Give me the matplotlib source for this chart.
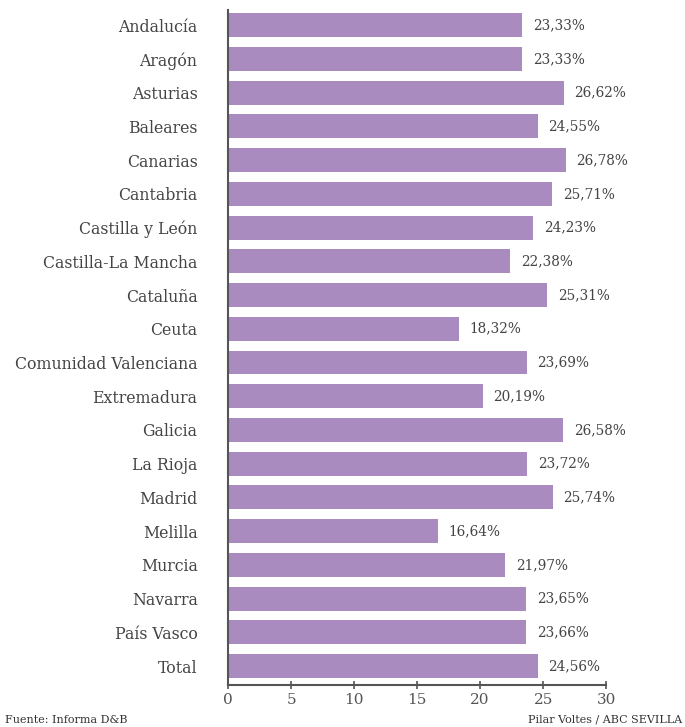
import matplotlib
matplotlib.use("Agg")
import matplotlib.pyplot as plt
import numpy as np

regions = ['Andalucía', 'Aragón', 'Asturias', 'Baleares', 'Canarias', 'Cantabria',
           'Castilla y León', 'Castilla-La Mancha', 'Cataluña', 'Ceuta',
           'Comunidad Valenciana', 'Extremadura', 'Galicia', 'La Rioja', 'Madrid',
           'Melilla', 'Murcia', 'Navarra', 'País Vasco', 'Total']
values = [23.33, 23.33, 26.62, 24.55, 26.78, 25.71, 24.23, 22.38, 25.31, 18.32,
          23.69, 20.19, 26.58, 23.72, 25.74, 16.64, 21.97, 23.65, 23.66, 24.56]
xticks = [0, 5, 10, 15, 20, 25, 30]

plt.rcParams['font.family'] = ['DejaVu Serif']
text_color = '#444444'

fig = plt.figure(figsize=(6.85, 7.27), dpi=100)
ax = fig.add_axes([0.333, 0.0578, 0.552, 0.928])

y = np.arange(len(regions))
ax.barh(y, values, height=0.71, color='#a98bc0', edgecolor='none')
for yi, v in zip(y, values):
    ax.text(v + 0.85, yi, '{:.2f}%'.format(v).replace('.', ','), va='center', ha='left',
            fontsize=9.8, color=text_color)

ax.set_ylim(19.56, -0.44)
ax.set_xlim(0, 30)
ax.set_yticks(y)
ax.set_yticklabels(regions, fontsize=11.3, color=text_color)
ax.set_xticks(xticks)
ax.set_xticklabels([str(t) for t in xticks], fontsize=11, color='#555555')
ax.tick_params(axis='y', length=0, pad=22)
ax.tick_params(axis='x', direction='inout', length=6, width=1.2, color='#555555', pad=3)
for s in ['top', 'right']:
    ax.spines[s].set_visible(False)
for s in ['left', 'bottom']:
    ax.spines[s].set_color('#555555')
    ax.spines[s].set_linewidth(1.5)

fig.text(0.007, 0.006, 'Fuente: Informa D&B', fontsize=8, color='#333333')
fig.text(0.996, 0.006, 'Pilar Voltes / ABC SEVILLA', fontsize=8, color='#333333', ha='right')

fig.savefig('out.png', dpi=100)
plt.close()
